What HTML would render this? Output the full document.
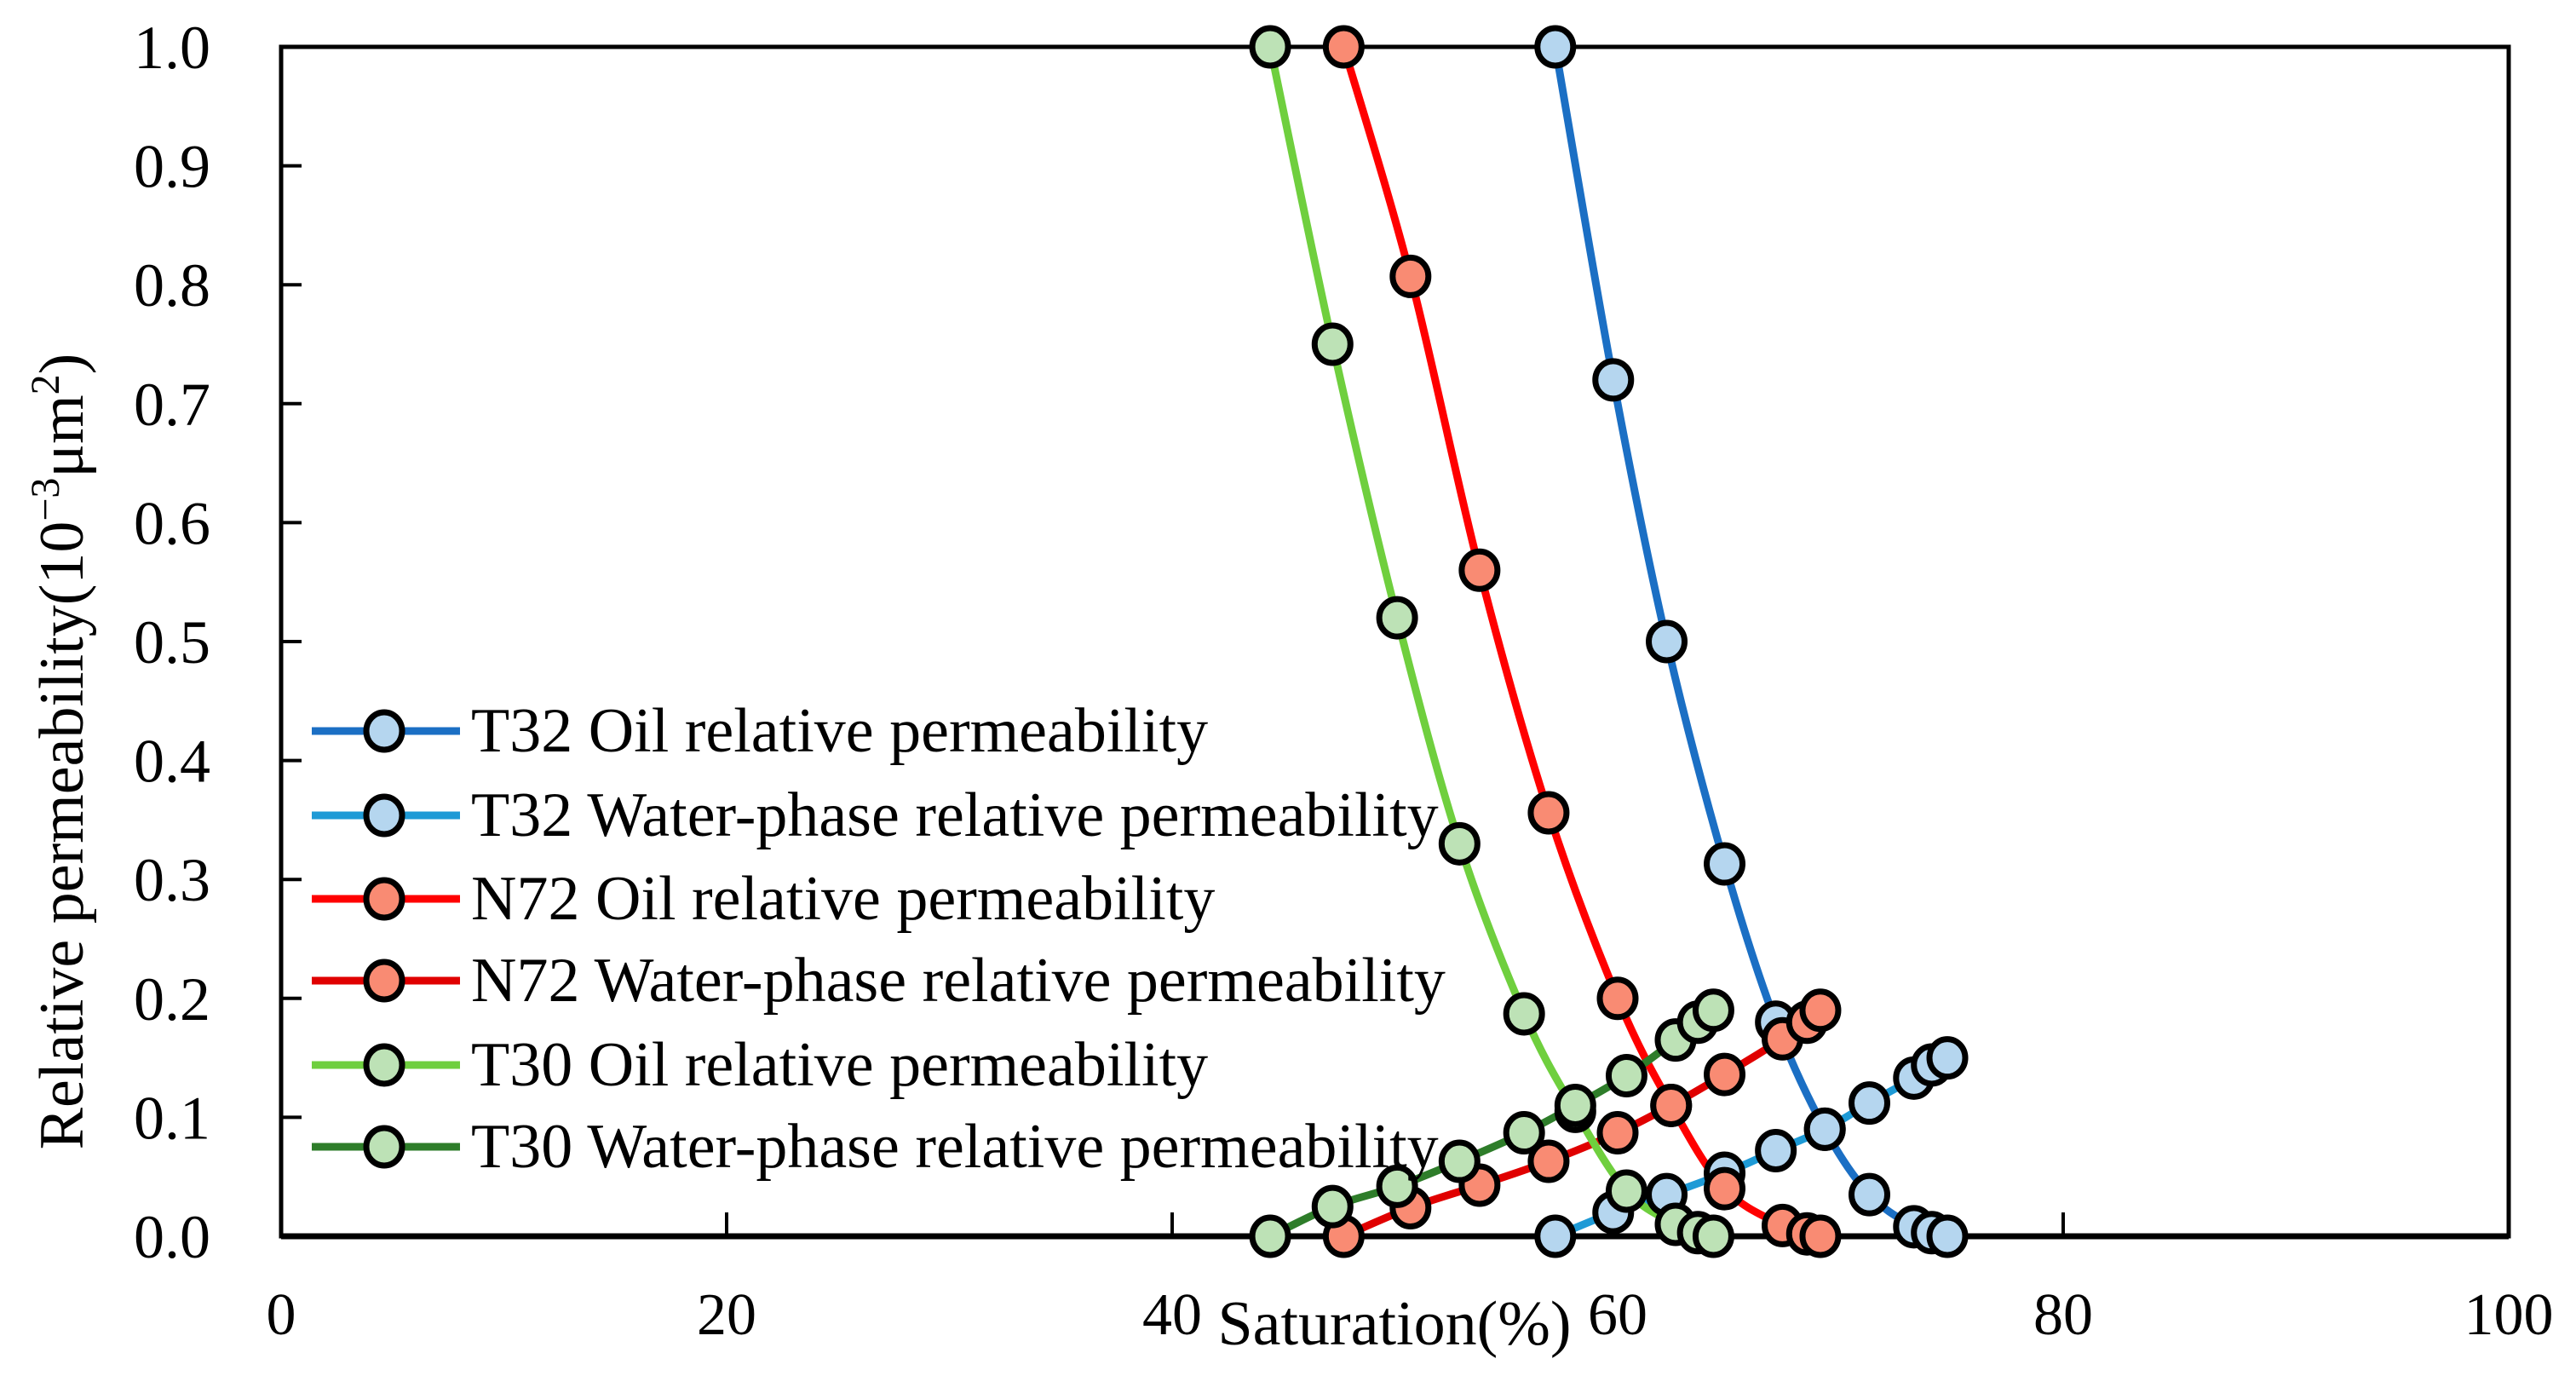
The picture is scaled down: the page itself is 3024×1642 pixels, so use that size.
<!DOCTYPE html>
<html><head><meta charset="utf-8"><style>
html,body{margin:0;padding:0;background:#fff;}
svg text{font-family:"Liberation Serif",serif;fill:#000;}
</style></head><body>
<svg id="chart" width="3024" height="1637" viewBox="0 0 3024 1637" xmlns="http://www.w3.org/2000/svg">
<rect x="0" y="0" width="3024" height="1637" fill="#fff"/>
<g id="axes"></g>
<g id="series"></g>
<g id="legend"></g>
</svg>
<script>
const xTicks=[0,20,40,60,80,100];
const yTicks=[0,0.1,0.2,0.3,0.4,0.5,0.6,0.7,0.8,0.9,1.0];
const t32OilX=[57.2,59.8,62.2,64.8,67.1,69.3,71.3,73.3,74.1,74.8];
const t32OilY=[1.0,0.72,0.50,0.313,0.18,0.09,0.035,0.008,0.003,0.0];
const t32WatX=[57.2,59.8,62.2,64.8,67.1,69.3,71.3,73.3,74.1,74.8];
const t32WatY=[0.0,0.02,0.035,0.053,0.072,0.09,0.112,0.133,0.144,0.15];
const n72OilX=[47.7,50.7,53.8,56.9,60.0,62.4,64.8,67.4,68.5,69.1];
const n72OilY=[1.0,0.807,0.56,0.356,0.20,0.11,0.04,0.009,0.002,0.0];
const n72WatX=[47.7,50.7,53.8,56.9,60.0,62.4,64.8,67.4,68.5,69.1];
const n72WatY=[0.0,0.024,0.043,0.063,0.087,0.11,0.136,0.166,0.18,0.19];
const t30OilX=[44.4,47.2,50.1,52.9,55.8,58.1,60.4,62.6,63.6,64.3];
const t30OilY=[1.0,0.75,0.52,0.33,0.187,0.105,0.038,0.01,0.003,0.0];
const t30WatX=[44.4,47.2,50.1,52.9,55.8,58.1,60.4,62.6,63.6,64.3];
const t30WatY=[0.0,0.025,0.042,0.063,0.087,0.11,0.135,0.165,0.18,0.19];
const seriesNames=["T32 Oil relative permeability","T32 Water-phase relative permeability","N72 Oil relative permeability","N72 Water-phase relative permeability","T30 Oil relative permeability","T30 Water-phase relative permeability"];

const NS="http://www.w3.org/2000/svg";
const L=330,R=2945,T=55,B=1451;
const sx=v=>L+(v-0)/(100-0)*(R-L);
const sy=v=>B-(v-0)/(1-0)*(B-T);
function mk(tag,attrs,parent){const e=document.createElementNS(NS,tag);for(const k in attrs)e.setAttribute(k,attrs[k]);parent.appendChild(e);return e;}
const axes=document.getElementById('axes'),ser=document.getElementById('series'),leg=document.getElementById('legend');

const box=mk('rect',{x:L,y:T,width:R-L,height:B-T,fill:'none',stroke:'#000','stroke-width':5},axes);


const xa=mk('line',{x1:L,y1:B,x2:R,y2:B,stroke:'#000','stroke-width':7},axes);


xTicks.forEach(v=>{
  const tk=mk('line',{x1:sx(v),y1:B,x2:sx(v),y2:B-28,stroke:'#000','stroke-width':4},axes);
  
  
  const t=mk('text',{x:sx(v),y:1566,'font-size':70,'text-anchor':'middle'},axes);
  t.textContent=String(v);
  
  
});
yTicks.forEach(v=>{
  const tk=mk('line',{x1:L,y1:sy(v),x2:L+24,y2:sy(v),stroke:'#000','stroke-width':4},axes);
  
  
  const t=mk('text',{x:247,y:sy(v)+25,'font-size':72,'text-anchor':'end'},axes);
  t.textContent=v.toFixed(1);
  
  
});
const xt=mk('text',{x:1637,y:1578,'font-size':74,'text-anchor':'middle'},axes);
xt.textContent='Saturation(%)';


const yt=mk('text',{x:0,y:0,'font-size':74,'text-anchor':'middle',transform:'translate(97,882) rotate(-90)'},axes);
yt.innerHTML='Relative permeability(10<tspan dy="-28" font-size="48">−3</tspan><tspan dy="28">μm</tspan><tspan dy="-28" font-size="48">2</tspan><tspan dy="28">)</tspan>';



function smooth(pts){
  let d='M'+pts[0][0]+','+pts[0][1];
  for(let i=0;i<pts.length-1;i++){
    const p0=pts[i-1]||pts[i],p1=pts[i],p2=pts[i+1],p3=pts[i+2]||p2;
    const c1=[p1[0]+(p2[0]-p0[0])/6,p1[1]+(p2[1]-p0[1])/6];
    const c2=[p2[0]-(p3[0]-p1[0])/6,p2[1]-(p3[1]-p1[1])/6];
    d+=' C'+c1[0]+','+c1[1]+' '+c2[0]+','+c2[1]+' '+p2[0]+','+p2[1];
  }
  return d;
}
const defs=[
 {xs:t32OilX,ys:t32OilY,line:'#1b6fc4',fill:'#b5d6ef',name:'t32-oil'},
 {xs:t32WatX,ys:t32WatY,line:'#1e9ad6',fill:'#b5d6ef',name:'t32-water'},
 {xs:n72OilX,ys:n72OilY,line:'#ff0000',fill:'#f98b73',name:'n72-oil'},
 {xs:n72WatX,ys:n72WatY,line:'#e00000',fill:'#f98b73',name:'n72-water'},
 {xs:t30OilX,ys:t30OilY,line:'#6fcf3e',fill:'#bde2b6',name:'t30-oil'},
 {xs:t30WatX,ys:t30WatY,line:'#2e7d2a',fill:'#bde2b6',name:'t30-water'}
];
defs.forEach(s=>{
  const pts=s.xs.map((x,i)=>[sx(x),sy(s.ys[i])]);
  const p=mk('path',{d:smooth(pts),fill:'none',stroke:s.line,'stroke-width':9},ser);
  
  
});
defs.forEach(s=>{
  s.xs.forEach((x,i)=>{
    const c=mk('ellipse',{cx:sx(x),cy:sy(s.ys[i]),rx:21,ry:22,fill:s.fill,stroke:'#000','stroke-width':7},ser);
    
    
  });
});
const legY=[858,957,1055,1151,1250,1346];
defs.forEach((s,i)=>{
  const g=mk('g',{},leg);
  
  
  mk('line',{x1:366,y1:legY[i],x2:540,y2:legY[i],stroke:s.line,'stroke-width':9},g);
  mk('ellipse',{cx:451,cy:legY[i],rx:21,ry:22,fill:s.fill,stroke:'#000','stroke-width':7},g);
  const t=mk('text',{x:553,y:legY[i]+24,'font-size':74},g);
  t.textContent=seriesNames[i];
});
</script>
</body></html>
